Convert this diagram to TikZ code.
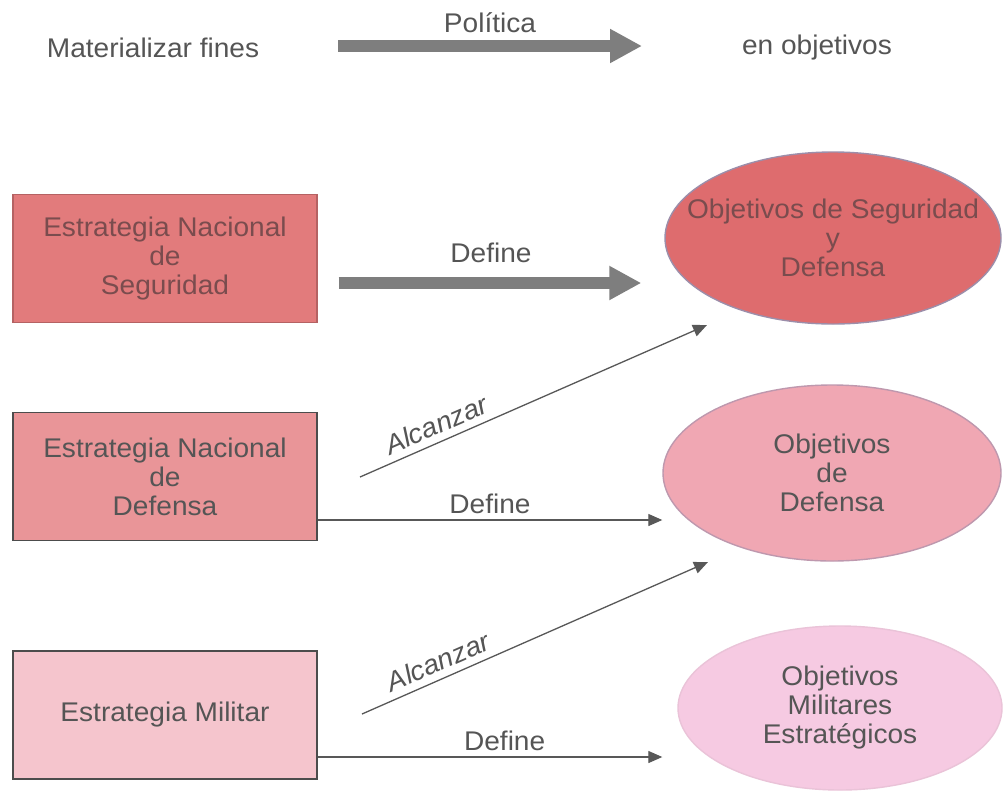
\documentclass[tikz,border=0pt]{standalone}
\usepackage{fontspec}
\setmainfont{Liberation Sans}[FakeStretch=1.04]
\usetikzlibrary{shapes.geometric,arrows.meta}
\definecolor{boxA}{HTML}{E27B7C}
\definecolor{ellA}{HTML}{DE6C6E}
\definecolor{boxB}{HTML}{E99598}
\definecolor{ellB}{HTML}{F0A7B3}
\definecolor{boxC}{HTML}{F5C5CD}
\definecolor{ellC}{HTML}{F6CAE2}
\definecolor{txtA}{HTML}{7A4C4E}
\definecolor{txtG}{HTML}{555555}
\definecolor{bigg}{HTML}{7E7E7E}
\definecolor{thin}{HTML}{585858}
\definecolor{ellborder}{HTML}{9C8EAA}
\tikzset{
  lbl/.style={font=\fontsize{27}{29}\selectfont, text=txtG, align=center, inner sep=0pt},
  stratbox/.style={rectangle, minimum width=304pt, minimum height=128pt, line width=1.2pt, align=center, font=\fontsize{27}{29}\selectfont, text=txtG},
  objell/.style={ellipse, inner sep=0pt, line width=1.4pt},
  bigarrow/.style={draw=bigg, line width=12pt, -{Triangle[length=32pt,width=32pt]}},
  thinarrow/.style={draw=thin, line width=1.3pt, -{Triangle[length=14pt,width=12pt]}},
  arrlbl/.style={font=\fontsize{27}{29}\selectfont, text=txtG, inner sep=0pt},
  slantlbl/.style={font=\fontsize{27}{29}\selectfont\itshape, text=txtG, inner sep=0pt}
}
\begin{document}
\begin{tikzpicture}[x=1pt,y=-1pt]
\useasboundingbox (0,0) rectangle (1003,796);
\fill[white] (0,0) rectangle (1003,796);
% top row
\node[lbl] (mat) at (153,48) {Materializar fines};
\node[lbl] (obj) at (817,48) {en objetivos};
\coordinate (ps) at (338,46);
\coordinate (pe) at (642,46);
\draw[bigarrow] (ps) -- (pe) node[midway, above=7pt, arrlbl] {Política};
% boxes
\node[stratbox, fill=boxA, draw=boxA!80!black, text=txtA] (b1) at (165,258.5) {Estrategia Nacional\\de\\Seguridad};
\node[stratbox, fill=boxB, draw=black!70] (b2) at (165,476.5) {Estrategia Nacional\\de\\Defensa};
\node[stratbox, fill=boxC, draw=black!70] (b3) at (165,715) {Estrategia Militar};
% ellipses
\node[objell, fill=ellA, draw=ellborder, minimum width=336pt, minimum height=172pt,
      label={[lbl, text=txtA]center:{Objetivos de Seguridad\\y\\Defensa}}] (e1) at (833,238) {};
\node[objell, fill=ellB, draw=ellborder!60!ellB, minimum width=338pt, minimum height=176pt,
      label={[lbl]center:{Objetivos\\de\\Defensa}}] (e2) at (832,473) {};
\node[objell, fill=ellC, draw=ellC!90!gray, minimum width=324pt, minimum height=164pt,
      label={[lbl]center:{Objetivos\\Militares\\Estratégicos}}] (e3) at (840,708) {};
% Define arrows
\draw[bigarrow, shorten <=21pt, shorten >=23pt] ([yshift=-24.5pt]b1.east) -- ([yshift=-24.5pt]b1.east -| e1.west) node[midway, above=14pt, arrlbl] {Define};
\draw[thinarrow] ([yshift=-43.5pt]b2.east) -- ([yshift=-43.5pt]b2.east -| e2.west) node[pos=0.5, above=6pt, arrlbl] {Define};
\draw[thinarrow, shorten >=15pt] ([yshift=-42pt]b3.east) -- ([yshift=-42pt]b3.east -| e3.west) node[pos=0.52, above=6pt, arrlbl] {Define};
% Alcanzar arrows
\coordinate (a1s) at (360,477);
\coordinate (a1e) at (707,325);
\coordinate (a2s) at (362,714);
\coordinate (a2e) at (708,562);
\draw[thinarrow] (a1s) -- (a1e) node[pos=0.24, sloped, above=7pt, slantlbl] {Alcanzar};
\draw[thinarrow] (a2s) -- (a2e) node[pos=0.24, sloped, above=7pt, slantlbl] {Alcanzar};
\end{tikzpicture}
\end{document}
